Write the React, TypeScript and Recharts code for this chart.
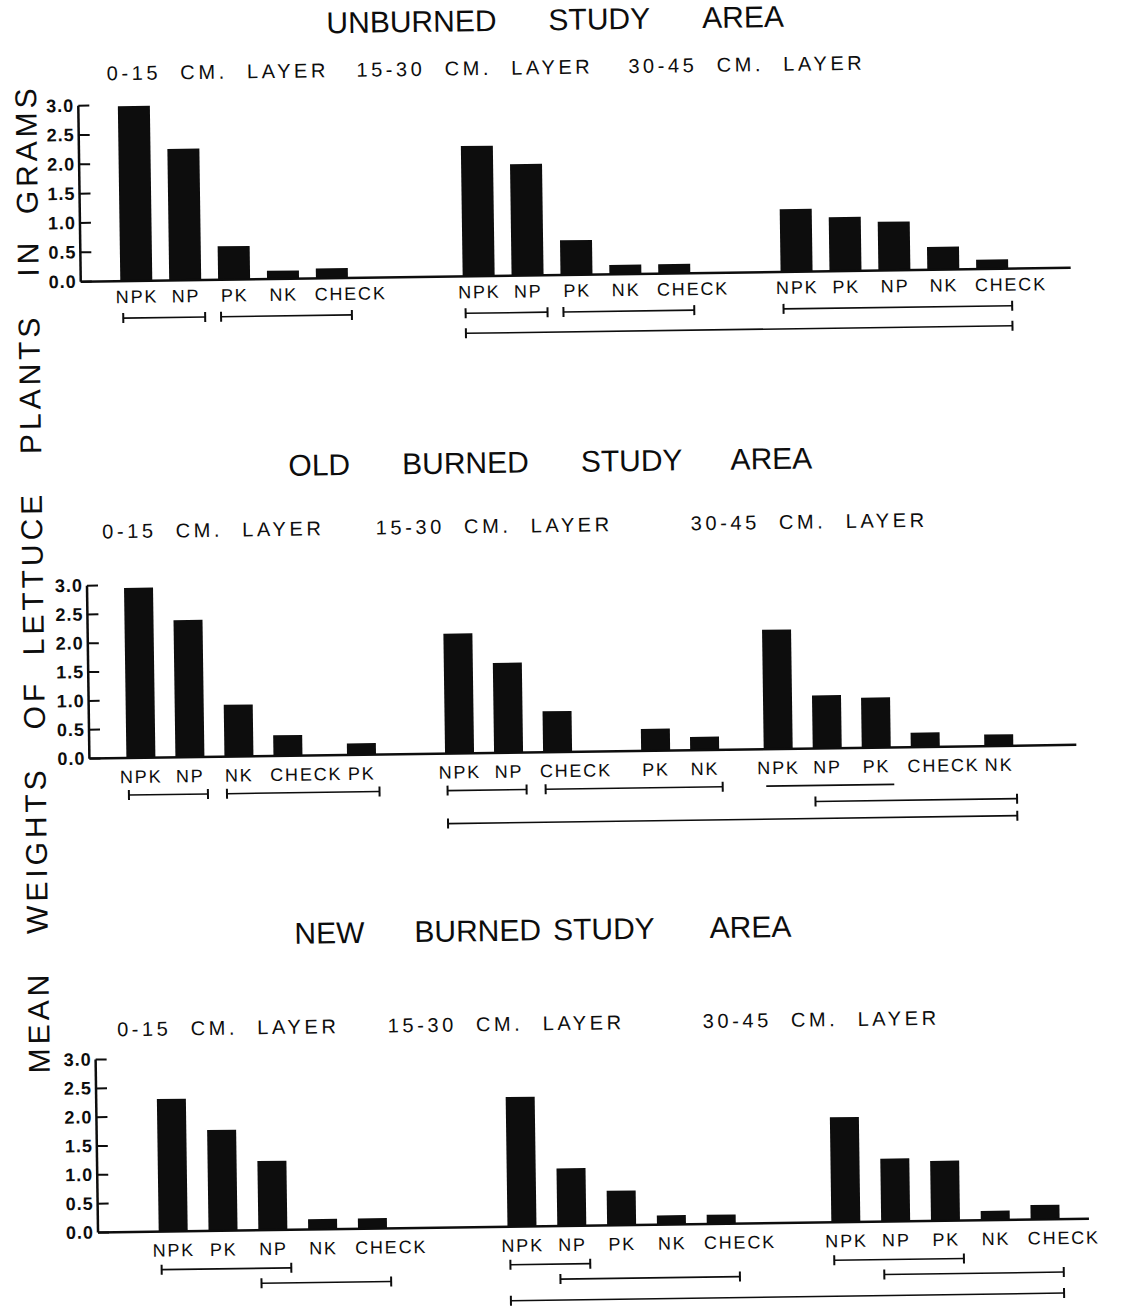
import React from 'react';
import { BarChart, Bar, XAxis, YAxis, ReferenceLine } from 'recharts';

// ---------------- data ----------------
const layerNames = ['0-15 CM. LAYER', '15-30 CM. LAYER', '30-45 CM. LAYER'];
const yTicks = [0, 0.5, 1.0, 1.5, 2.0, 2.5, 3.0];
const yAxisTitle = 'MEAN   WEIGHTS   OF  LETTUCE   PLANTS   IN  GRAMS';

const unburnedTitle = ['UNBURNED', 'STUDY', 'AREA'];
const unburnedLabels = [
  ['NPK', 'NP', 'PK', 'NK', 'CHECK'],
  ['NPK', 'NP', 'PK', 'NK', 'CHECK'],
  ['NPK', 'PK', 'NP', 'NK', 'CHECK'],
];
const unburnedValues = [
  [2.98, 2.24, 0.57, 0.14, 0.17],
  [2.22, 1.9, 0.59, 0.16, 0.16],
  [1.07, 0.92, 0.83, 0.39, 0.16],
];
// [first bar, last bar, row, caps] (bars numbered 0..14 across the three layers)
const unburnedRanges = [
  [0, 1, 0, 1], [2, 4, 0, 1], [5, 6, 0, 1], [7, 9, 0, 1], [10, 14, 0, 1], [5, 14, 1, 1],
];

const oldTitle = ['OLD', 'BURNED', 'STUDY', 'AREA'];
const oldLabels = [
  ['NPK', 'NP', 'NK', 'CHECK', 'PK'],
  ['NPK', 'NP', 'CHECK', 'PK', 'NK'],
  ['NPK', 'NP', 'PK', 'CHECK', 'NK'],
];
const oldValues = [
  [2.95, 2.38, 0.9, 0.36, 0.2],
  [2.08, 1.56, 0.71, 0.38, 0.23],
  [2.07, 0.92, 0.87, 0.25, 0.2],
];
const oldRanges = [
  [0, 1, 0, 1], [2, 4, 0, 1], [5, 6, 0, 1], [7, 9, 0, 1], [10, 12, 0, 0], [11, 14, 1, 1], [5, 14, 2, 1],
];

const newTitle = ['NEW', 'BURNED', 'STUDY', 'AREA'];
const newLabels = [
  ['NPK', 'PK', 'NP', 'NK', 'CHECK'],
  ['NPK', 'NP', 'PK', 'NK', 'CHECK'],
  ['NPK', 'NP', 'PK', 'NK', 'CHECK'],
];
const newValues = [
  [2.3, 1.75, 1.2, 0.18, 0.18],
  [2.25, 1.0, 0.6, 0.16, 0.16],
  [1.82, 1.09, 1.04, 0.16, 0.25],
];
const newRanges = [
  [0, 2, 0, 1], [2, 4, 1, 1], [5, 6, 0, 1], [6, 9, 1, 1], [10, 12, 0, 1], [11, 14, 1, 1], [5, 14, 2, 1],
];

// ---------------- layout (styles / positions) ----------------
const FONT = '"Liberation Sans", Arial, sans-serif';
const INK = '#0d0d0d';
const labelShift: Record<string, number> = { CHECK: 18 };

const layouts = [
  {
    axisX: 86, topY: 99, baseY: 275, axisEnd: 1076, firstC: 142, lastC: 998, barSize: 32,
    slotGaps: [[0, 0, 0, 0, 0], [0, 0, 0, 0, 0], [0, 0, 0, 0, 0]], groupGaps: [4, 3],
    rows: [37, 57], labelDy: 22,
    titleY: 20, titleX: 564, titleGaps: [52, 52],
    layerY: 67, layerX: [226, 483, 755],
  },
  {
    axisX: 88, topY: 579, baseY: 752, axisEnd: 1075, firstC: 139.5, lastC: 997.5, barSize: 29,
    slotGaps: [[0, 0, 0, 0, 1], [0, 0, 0, 2, 0], [0, 0, 0, 0, 1]], groupGaps: [2, 1],
    rows: [37, 53, 70], labelDy: 25,
    titleY: 462, titleX: 553, titleGaps: [52, 52, 48],
    layerY: 525, layerX: [215, 496, 811],
  },
  {
    axisX: 90, topY: 1053, baseY: 1226, axisEnd: 1081, firstC: 165.6, lastC: 1037.6, barSize: 29,
    slotGaps: [[0, 0, 0, 0, 0], [0, 0, 0, 0, 0], [0, 0, 0, 0, 0]], groupGaps: [4, 3],
    rows: [38, 53, 74], labelDy: 25,
    titleY: 930, titleX: 539, titleGaps: [50, 12, 55],
    layerY: 1023, layerX: [223, 501, 816],
  },
];

type Row = { pos: number; label: string; value: number };

function buildRows(labels: string[][], values: number[][], slotGaps: number[][], groupGaps: number[]): Row[] {
  const rows: Row[] = [];
  let p = 0;
  labels.forEach((grp, g) => {
    if (g > 0) p += groupGaps[g - 1];
    grp.forEach((lab, i) => {
      p += slotGaps[g][i];
      rows.push({ pos: p, label: lab, value: values[g][i] });
      p += 2;
    });
  });
  return rows;
}

const YTick = (props: any) => {
  const { x, y, payload } = props;
  return (
    <g>
      <line x1={x} x2={x + 11} y1={y} y2={y} stroke={INK} strokeWidth={2} />
      <text x={x - 4} y={y} dy={6} textAnchor="end" fontSize={18} fontWeight="bold"
        fontFamily={FONT} fill={INK} letterSpacing={1}>
        {Number(payload.value).toFixed(1)}
      </text>
    </g>
  );
};

const XTick = (props: any) => {
  const { x, y, payload, rows, dy } = props;
  const r = rows.find((q: Row) => q.pos === payload.value);
  const label = r ? r.label : '';
  return (
    <text x={x + (labelShift[label] || 0)} y={y} dy={dy} textAnchor="middle" fontSize={18} fontFamily={FONT}
      fill={INK} letterSpacing={1.8}>
      {label}
    </text>
  );
};

const RangeMark = (props: any) => {
  const { x1, x2, y1, off, ext, caps } = props;
  const y = y1 + off;
  const a = x1 - ext + 2;
  const b = x2 + ext + 3;
  return (
    <g>
      <line x1={a} x2={b} y1={y} y2={y} stroke={INK} strokeWidth={1.6} />
      {caps ? <line x1={a} x2={a} y1={y - 5} y2={y + 5} stroke={INK} strokeWidth={2} /> : null}
      {caps ? <line x1={b} x2={b} y1={y - 5} y2={y + 5} stroke={INK} strokeWidth={2} /> : null}
    </g>
  );
};

function Title({ words, gaps, x, y }: { words: string[]; gaps: number[]; x: number; y: number }) {
  return (
    <div style={{
      position: 'absolute', left: x, top: y, transform: 'translate(-50%, -50%)',
      display: 'flex', whiteSpace: 'nowrap', fontFamily: FONT, fontSize: 30, color: INK, lineHeight: 1,
    }}>
      {words.map((w, i) => (
        <span key={i} style={{ marginLeft: i === 0 ? 0 : gaps[i - 1] }}>{w}</span>
      ))}
    </div>
  );
}

function LayerLabel({ text, x, y }: { text: string; x: number; y: number }) {
  return (
    <div style={{
      position: 'absolute', left: x, top: y, transform: 'translate(-50%, -50%)',
      whiteSpace: 'pre', fontFamily: FONT, fontSize: 20, letterSpacing: 3.6, wordSpacing: 10,
      color: INK, lineHeight: 1,
    }}>{text}</div>
  );
}

function Panel({ cfg, title, labels, values, ranges }: any) {
  const rows = buildRows(labels, values, cfg.slotGaps, cfg.groupGaps);
  const firstK = rows[0].pos;
  const lastK = rows[rows.length - 1].pos;
  const w = (cfg.lastC - cfg.firstC) / (lastK - firstK);
  const domain = [firstK - (cfg.firstC - cfg.axisX) / w, lastK + (cfg.axisEnd - cfg.lastC) / w];
  const chartTop = cfg.topY - 10;
  const height = cfg.baseY - chartTop + 95;
  return (
    <>
      <Title words={title} gaps={cfg.titleGaps} x={cfg.titleX} y={cfg.titleY} />
      {layerNames.map((t, i) => (
        <LayerLabel key={i} text={t} x={cfg.layerX[i]} y={cfg.layerY} />
      ))}
      <div style={{ position: 'absolute', left: 0, top: chartTop }}>
        <BarChart width={1124} height={height} data={rows}
          margin={{ top: 10, right: 1124 - cfg.axisEnd, left: cfg.axisX - 50, bottom: 65 }}>
          <XAxis type="number" dataKey="pos" domain={domain} allowDataOverflow
            ticks={rows.map((r) => r.pos)} interval={0} tickLine={false} tickSize={0} tickMargin={0}
            height={30} axisLine={{ stroke: INK, strokeWidth: 2.5 }}
            tick={(p: any) => <XTick {...p} rows={rows} dy={cfg.labelDy} />} />
          <YAxis type="number" domain={[0, 3]} allowDataOverflow ticks={yTicks} interval={0}
            width={50} tickLine={false} tickSize={0} tickMargin={0}
            axisLine={{ stroke: INK, strokeWidth: 2.5 }} tick={(p: any) => <YTick {...p} />} />
          <Bar dataKey="value" fill={INK} barSize={cfg.barSize} isAnimationActive={false} />
          {ranges.map((r: number[], i: number) => (
            <ReferenceLine key={i}
              segment={[{ x: rows[r[0]].pos, y: 0 }, { x: rows[r[1]].pos, y: 0 }]}
              shape={(p: any) => <RangeMark {...p} off={cfg.rows[r[2]]} ext={cfg.barSize / 2} caps={r[3] === 1} />} />
          ))}
        </BarChart>
      </div>
    </>
  );
}

export default function App() {
  return (
    <div style={{ position: 'absolute', left: 0, top: 0, width: 1124, height: 1308, background: '#fff', overflow: 'hidden' }}>
      <div style={{ position: 'absolute', left: 0, top: 0, width: 1124, height: 1308, transform: 'rotate(-0.8deg)', transformOrigin: '562px 654px' }}>
        <svg width={70} height={1308} style={{ position: 'absolute', left: 0, top: 0 }}>
          <text x={0} y={0} transform="translate(44 1066) rotate(-90)" fontFamily={FONT} fontSize={30}
            fill={INK} textLength={985} lengthAdjust="spacing" style={{ whiteSpace: 'pre' }}>
            {yAxisTitle}
          </text>
        </svg>
        <Panel cfg={layouts[0]} title={unburnedTitle} labels={unburnedLabels} values={unburnedValues} ranges={unburnedRanges} />
        <Panel cfg={layouts[1]} title={oldTitle} labels={oldLabels} values={oldValues} ranges={oldRanges} />
        <Panel cfg={layouts[2]} title={newTitle} labels={newLabels} values={newValues} ranges={newRanges} />
      </div>
    </div>
  );
}
